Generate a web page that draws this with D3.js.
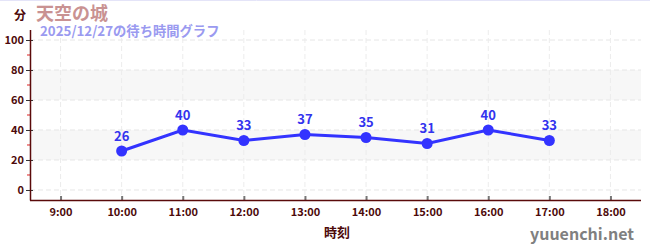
<!DOCTYPE html>
<html><head><meta charset="utf-8">
<script src="https://cdn.jsdelivr.net/npm/d3@7"></script>
<style>body{margin:0;background:#fff}svg{display:block}</style>
</head><body>
<svg id="c" width="650" height="250"></svg>
<script>
const hours = [10, 11, 12, 13, 14, 15, 16, 17];
const waits = [26, 40, 33, 37, 35, 31, 40, 33];
const xTicks = [9, 10, 11, 12, 13, 14, 15, 16, 17, 18];
const yTicks = [0, 20, 40, 60, 80, 100];
const yMinor = [10, 30, 50, 70, 90];
const bands = [[20, 40], [60, 80]];
const title = "天空の城";
const subtitle = "2025/12/27の待ち時間グラフ";
const yUnit = "分";
const xTitle = "時刻";
const site = "yuuenchi.net";

const svg = d3.select("#c");
const font = "'Noto Sans CJK JP','Noto Sans',sans-serif";
const L = 30, R = 641, T = 30, B = 200;
const x = d3.scaleLinear().domain([8.5, 18.5]).range([L, R]);
const y = d3.scaleLinear().domain([-6.667, 106.667]).range([B, T]);

svg.append("line").attr("x1", 0).attr("x2", 650).attr("y1", 0.5).attr("y2", 0.5)
  .attr("stroke", "#e4e4f8").attr("stroke-width", 1);

// bands
svg.selectAll("rect.band").data(bands).enter().append("rect")
  .attr("x", L).attr("width", R - L)
  .attr("y", d => y(d[1])).attr("height", d => y(d[0]) - y(d[1]))
  .attr("fill", "#f7f7f7");

// grid
svg.selectAll("line.hg").data(yTicks).enter().append("line")
  .attr("x1", L).attr("x2", R).attr("y1", d => y(d)).attr("y2", d => y(d))
  .attr("stroke", "#e6e6e6").attr("stroke-dasharray", "5,3");
svg.selectAll("line.vg").data(xTicks).enter().append("line")
  .attr("x1", d => x(d)).attr("x2", d => x(d)).attr("y1", T).attr("y2", B)
  .attr("stroke", "#ececec").attr("stroke-dasharray", "5,3");

// y axis
const yAx = svg.append("g").attr("transform", `translate(${L},0)`)
  .call(d3.axisLeft(y).tickValues(yTicks).tickSize(4).tickSizeOuter(0));
yAx.select(".domain").remove();
yAx.selectAll(".tick line").attr("x2", 3).attr("x1", -4).attr("stroke", "#333");
yAx.selectAll("text").attr("x", -6).attr("fill", "#4d0a0a").attr("font-size", 11)
  .attr("font-weight", "bold").attr("font-family", font);
svg.selectAll("line.ym").data(yMinor).enter().append("line")
  .attr("x1", L - 3).attr("x2", L).attr("y1", d => y(d)).attr("y2", d => y(d))
  .attr("stroke", "#e02020");
svg.append("line").attr("x1", L + 0.5).attr("x2", L + 0.5).attr("y1", T).attr("y2", B + 0.5)
  .attr("stroke", "#5a0a0a").attr("stroke-width", 1.5);

// x axis
const xAx = svg.append("g").attr("transform", `translate(0,${B})`)
  .call(d3.axisBottom(x).tickValues(xTicks).tickFormat(d => d + ":00").tickSize(0).tickPadding(8));
xAx.select(".domain").remove();
xAx.selectAll(".tick").append("line").attr("y1", 0).attr("y2", -4).attr("stroke", "#777").attr("stroke-width", 2);
xAx.selectAll("text").attr("fill", "#4d0a0a").attr("font-size", 11)
  .attr("font-weight", "bold").attr("font-family", font);
svg.append("line").attr("x1", L).attr("x2", R).attr("y1", B + 0.5).attr("y2", B + 0.5)
  .attr("stroke", "#5a0a0a").attr("stroke-width", 1.5);

// series
const pts = hours.map((h, i) => [h, waits[i]]);
svg.append("path").datum(pts)
  .attr("d", d3.line().x(d => x(d[0])).y(d => y(d[1])))
  .attr("fill", "none").attr("stroke", "#3333ff").attr("stroke-width", 3);
svg.selectAll("circle.p").data(pts).enter().append("circle")
  .attr("cx", d => x(d[0])).attr("cy", d => y(d[1])).attr("r", 5.5).attr("fill", "#3333ff");
svg.selectAll("text.lb").data(pts).enter().append("text")
  .attr("x", d => x(d[0])).attr("y", d => y(d[1]) - 10).attr("text-anchor", "middle")
  .attr("fill", "#3333ee").attr("font-size", 13).attr("font-weight", "bold")
  .attr("font-family", font).text(d => d[1]);

// texts
svg.append("text").attr("x", 14).attr("y", 20).attr("fill", "#4d0a0a").attr("font-size", 12)
  .attr("font-weight", "bold").attr("font-family", font).text(yUnit);
svg.append("text").attr("x", 36).attr("y", 20).attr("fill", "#c99292").attr("font-size", 18)
  .attr("font-weight", "bold").attr("font-family", font).text(title);
svg.append("text").attr("x", 40).attr("y", 36).attr("fill", "#9a9af0").attr("font-size", 13.3)
  .attr("font-weight", "bold").attr("font-family", font).text(subtitle);
svg.append("text").attr("x", 337).attr("y", 237).attr("text-anchor", "middle").attr("fill", "#4d0a0a")
  .attr("font-size", 13).attr("font-weight", "bold").attr("font-family", font).text(xTitle);
svg.append("text").attr("x", 634).attr("y", 240).attr("text-anchor", "end").attr("fill", "#808080")
  .attr("font-size", 16).attr("font-weight", "bold").attr("font-family", font).text(site);
</script>
</body></html>
